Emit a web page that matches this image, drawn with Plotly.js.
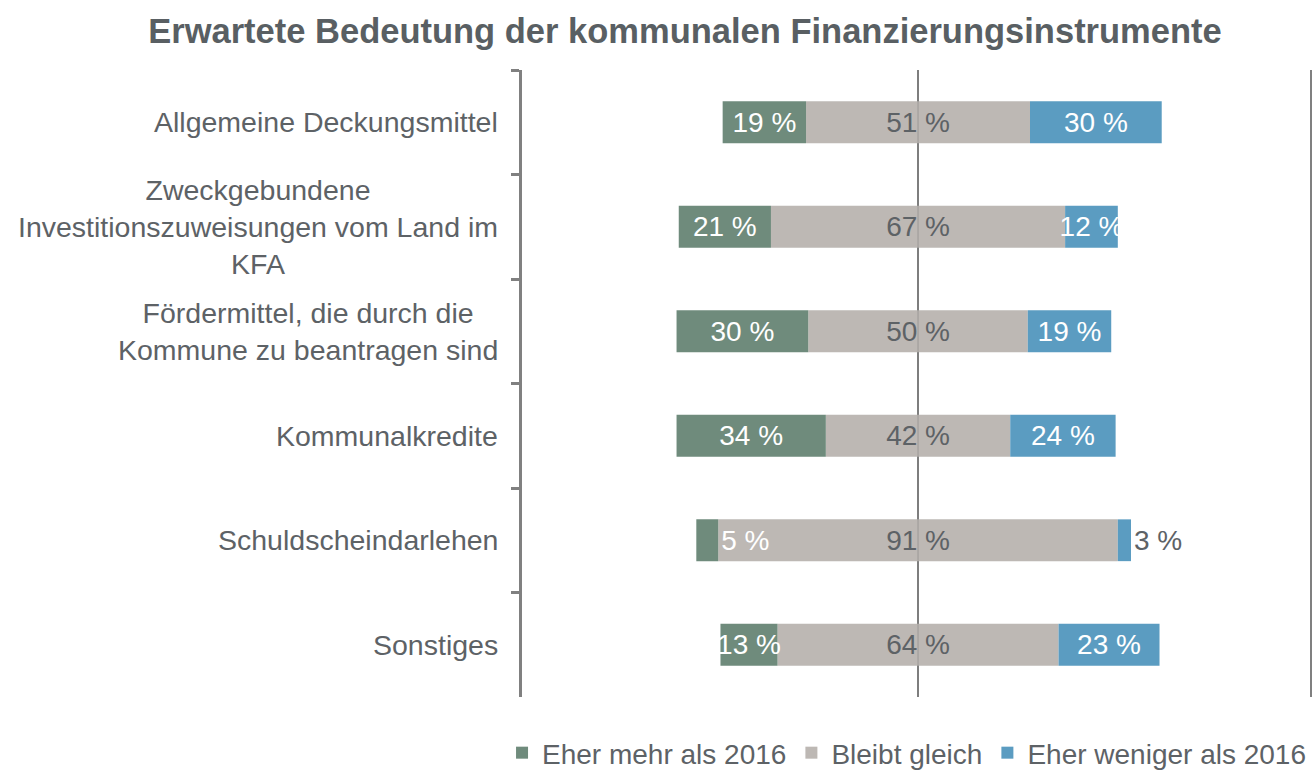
<!DOCTYPE html>
<html>
<head>
<meta charset="utf-8">
<script src="https://cdn.plot.ly/plotly-3.0.1.min.js"></script>
<style>html,body{margin:0;padding:0;background:#fff;}#chart{width:1314px;height:777px;}</style>
</head>
<body>
<div id="chart"></div>
<script>
// ---- data ----
const categories = [
  "Allgemeine Deckungsmittel",
  "Zweckgebundene<br>Investitionszuweisungen vom Land im<br>KFA",
  "Fördermittel, die durch die<br>Kommune zu beantragen sind",
  "Kommunalkredite",
  "Schuldscheindarlehen",
  "Sonstiges"
];
const seriesNames = ["Eher mehr als 2016", "Bleibt gleich", "Eher weniger als 2016"];
const mehr    = [19, 21, 30, 34, 5, 13];
const gleich  = [51, 67, 50, 42, 91, 64];
const weniger = [30, 12, 19, 24, 3, 23];
const chartTitle = "Erwartete Bedeutung der kommunalen Finanzierungsinstrumente";

// ---- styles ----
const cGreen = "#6f8b7c", cGray = "#bdb8b4", cBlue = "#5b9cc1";
const txtGray = "#5d6266";
const FONT = "Liberation Sans, Arial, sans-serif";

const lab = v => v + " %";
const pos = v => (v < 8 ? "outside" : "inside");

const common = {
  type: "bar", orientation: "h", y: categories, width: 0.4,
  textangle: 0, insidetextanchor: "middle", constraintext: "none",
  cliponaxis: false, hoverinfo: "skip"
};

const traceGray = Object.assign({}, common, {
  name: seriesNames[1], legendrank: 2,
  x: gleich, base: gleich.map(g => -g / 2),
  marker: {color: cGray, line: {width: 0}},
  text: gleich.map(lab), textposition: gleich.map(pos),
  textfont: {family: FONT, size: 28, color: txtGray},
  insidetextfont: {family: FONT, size: 28, color: txtGray},
  outsidetextfont: {family: FONT, size: 28, color: txtGray}
});
const traceBlue = Object.assign({}, common, {
  name: seriesNames[2], legendrank: 3,
  x: weniger, base: gleich.map(g => g / 2),
  marker: {color: cBlue, line: {width: 0}},
  text: weniger.map(lab), textposition: weniger.map(pos),
  textfont: {family: FONT, size: 28, color: "#ffffff"},
  insidetextfont: {family: FONT, size: 28, color: "#ffffff"},
  outsidetextfont: {family: FONT, size: 28, color: txtGray}
});
const traceGreen = Object.assign({}, common, {
  name: seriesNames[0], legendrank: 1,
  x: mehr, base: gleich.map((g, i) => -g / 2 - mehr[i]),
  marker: {color: cGreen, line: {width: 0}},
  text: mehr.map(lab), textposition: mehr.map(pos),
  textfont: {family: FONT, size: 28, color: "#ffffff"},
  insidetextfont: {family: FONT, size: 28, color: "#ffffff"},
  outsidetextfont: {family: FONT, size: 28, color: "#ffffff"}
});

const annotations = categories.map(c => ({
  text: c, xref: "paper", yref: "y", x: 0, y: c,
  xanchor: "right", yanchor: "middle", xshift: -22,
  align: "center", showarrow: false,
  font: {family: FONT, size: 28.5, color: txtGray}
}));

const layout = {
  width: 1314, height: 777,
  margin: {l: 522, r: 3, t: 70, b: 80, pad: 0, autoexpand: false},
  paper_bgcolor: "#ffffff", plot_bgcolor: "#ffffff",
  font: {family: FONT, color: txtGray},
  barmode: "overlay",
  title: {
    text: "<b>" + chartTitle + "</b>",
    font: {family: FONT, size: 34.5, color: "#595f63"},
    xref: "container", yref: "container",
    x: 0.5213, xanchor: "center", y: 0.960, yanchor: "middle"
  },
  xaxis: {
    range: [-90.2, 89.5], fixedrange: true,
    showgrid: false, showline: false, showticklabels: false, ticks: "",
    zeroline: true, zerolinecolor: "#7f7f7f", zerolinewidth: 2
  },
  yaxis: {
    type: "category", autorange: "reversed", fixedrange: true,
    showgrid: false, zeroline: false,
    showline: true, linecolor: "#808080", linewidth: 3,
    ticks: "outside", tickson: "boundaries", ticklen: 8, tickwidth: 3, tickcolor: "#808080",
    showticklabels: false
  },
  showlegend: true,
  legend: {
    orientation: "h", traceorder: "normal",
    x: -0.0253, xanchor: "left", y: -0.0494, yanchor: "top",
    font: {family: FONT, size: 28, color: txtGray},
    bgcolor: "rgba(0,0,0,0)"
  },
  annotations: annotations,
  shapes: [
    {type: "line", xref: "paper", yref: "paper", x0: 1, x1: 1, y0: 0, y1: 1,
     line: {color: "#808080", width: 2}},
    {type: "line", xref: "x", yref: "paper", x0: 0, x1: 0, y0: 0, y1: 1, layer: "above",
     line: {color: "rgba(127,127,127,0.35)", width: 1.5}}
  ],
  hovermode: false
};

Plotly.newPlot("chart", [traceGray, traceBlue, traceGreen], layout,
  {displayModeBar: false, staticPlot: true});
</script>
</body>
</html>
